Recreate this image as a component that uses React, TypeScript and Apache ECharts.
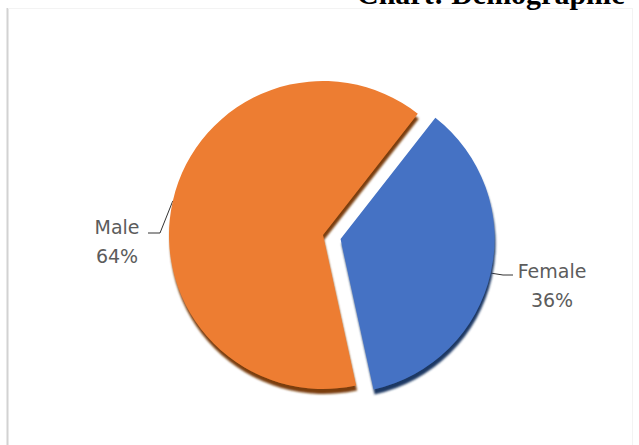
import React, { useEffect, useRef } from "react";
import * as echarts from "echarts";

const categories = ["Female", "Male"];
const values = [36, 64];
const sliceColors = ["#4472C4", "#ED7D31"];
const rimColors = ["#1F3864", "#7A3E10"];
const titleText = "Chart: Demographic";

export default function App() {
  const ref = useRef<HTMLDivElement>(null);
  useEffect(() => {
    if (!ref.current) return;
    const chart = echarts.init(ref.current, undefined, { renderer: "svg" });
    const labelFont = '"DejaVu Sans", sans-serif';
    const cx = 323;
    const cy = 235;
    const R = 154;
    const startCW = 38; // degrees clockwise from 12 o'clock
    const explode = 18;
    const total = values.reduce((a, b) => a + b, 0);
    const midCW = ((startCW + (values[0] / total) * 180) * Math.PI) / 180;
    const centerB = [cx + explode * Math.sin(midCW), cy - explode * Math.cos(midCW)];

    const makeData = (visibleIndex: number) =>
      categories.map((name, i) =>
        i === visibleIndex
          ? {
              name,
              value: values[i],
              itemStyle: {
                color: sliceColors[i],
                shadowColor: rimColors[i],
                shadowOffsetY: 5,
                shadowOffsetX: 1,
                shadowBlur: 2,
              },
            }
          : {
              name,
              value: values[i],
              itemStyle: { color: "rgba(0,0,0,0)" },
              label: { show: false },
              labelLine: { show: false },
            }
      );

    const common = {
      type: "pie",
      silent: true,
      radius: R,
      startAngle: 90 - startCW,
      clockwise: true,
      avoidLabelOverlap: false,
      label: {
        show: true,
        position: "outside",
        formatter: "{b}\n{d}%",
        fontFamily: labelFont,
        fontSize: 19,
        lineHeight: 29,
        color: "#5c5c5c",
      },
      labelLine: {
        show: true,
        length: 15,
        length2: 12,
        lineStyle: { color: "#333333", width: 1 },
      },
      emphasis: { disabled: true },
    };

    chart.setOption({
      animation: false,
      backgroundColor: "#ffffff",
      graphic: [
        { type: "line", silent: true, shape: { x1: 7.5, y1: 8, x2: 7.5, y2: 445 }, style: { stroke: "#d2d2d2", lineWidth: 2 } },
        { type: "line", silent: true, shape: { x1: 8, y1: 8.5, x2: 632, y2: 8.5 }, style: { stroke: "#f3f3f3", lineWidth: 1 } },
        { type: "line", silent: true, shape: { x1: 632.5, y1: 8, x2: 632.5, y2: 445 }, style: { stroke: "#f3f3f3", lineWidth: 1 } },
        {
          type: "text",
          silent: true,
          x: 357,
          y: -7,
          style: {
            text: titleText,
            font: 'bold 30px "Liberation Serif", serif',
            fill: "#000000",
            align: "left",
            verticalAlign: "middle",
          },
        },
      ],
      series: [
        {
          ...common,
          center: [cx, cy],
          data: makeData(1),
          labelLayout: (params: any) => {
            const p0 = params.labelLinePoints ? params.labelLinePoints[0] : [0, 0];
            return {
              x: 117,
              y: 241,
              align: "center",
              verticalAlign: "middle",
              labelLinePoints: [p0, [160, 233], [148, 233]],
            };
          },
        },
        {
          ...common,
          center: centerB,
          data: makeData(0),
          labelLayout: (params: any) => {
            const p0 = params.labelLinePoints ? params.labelLinePoints[0] : [0, 0];
            return {
              x: 552,
              y: 285,
              align: "center",
              verticalAlign: "middle",
              labelLinePoints: [p0, [503, 275], [513, 275]],
            };
          },
        },
      ],
    });
    return () => chart.dispose();
  }, []);
  return (
    <div
      ref={ref}
      style={{ position: "fixed", left: 0, top: 0, width: 639, height: 445 }}
    />
  );
}
